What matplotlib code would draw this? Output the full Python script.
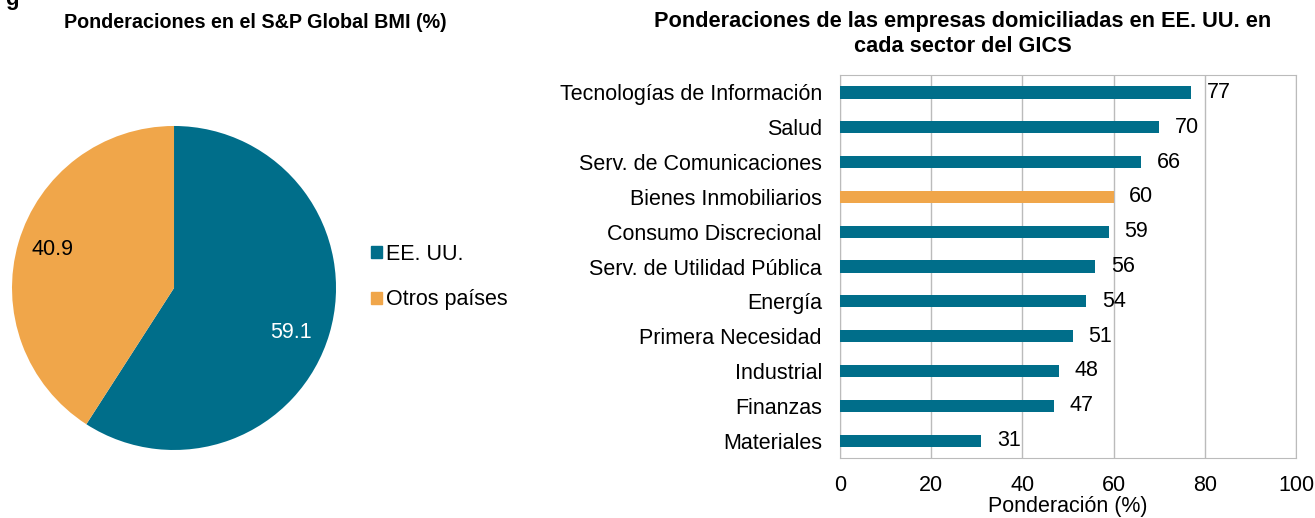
import matplotlib.pyplot as plt
from matplotlib.patches import Patch

plt.rcParams['font.family'] = ['Liberation Sans', 'DejaVu Sans']

teal = "#006E8A"
orange = "#F0A64A"

# pie data
pie_labels = ["EE. UU.", "Otros países"]
pie_values = [59.1, 40.9]

# bar data (top to bottom)
sectores = ["Tecnologías de Información", "Salud", "Serv. de Comunicaciones",
            "Bienes Inmobiliarios", "Consumo Discrecional", "Serv. de Utilidad Pública",
            "Energía", "Primera Necesidad", "Industrial", "Finanzas", "Materiales"]
pesos = [77, 70, 66, 60, 59, 56, 54, 51, 48, 47, 31]
destacado = "Bienes Inmobiliarios"

fs = 15.5

fig = plt.figure(figsize=(13.15, 5.18), dpi=100)

# --- pie ---
ax1 = fig.add_axes([0.00913, 0.1313, 0.2464, 0.6255])
wedges, _ = ax1.pie(pie_values, colors=[teal, orange], startangle=90,
                    counterclock=False, radius=1)
ax1.set_xlim(-1, 1)
ax1.set_ylim(-1, 1)
ax1.set_aspect("equal")
ax1.text(0.72, -0.275, "59.1", color="white", fontsize=fs, ha="center", va="center")
ax1.text(-0.75, 0.235, "40.9", color="black", fontsize=fs, ha="center", va="center")

fig.text(255 / 1315, 1 - 22 / 518, "Ponderaciones en el S&P Global BMI (%)",
         fontsize=14.2, fontweight="bold", ha="center", va="center")
fig.text(0.004, 1.0, "g", fontsize=16, fontweight="bold", ha="left", va="center")

handles = [Patch(color=teal), Patch(color=orange)]
fig.legend(handles, pie_labels, loc="center left",
           bbox_to_anchor=(352 / 1315, 1 - 277 / 518), frameon=False,
           fontsize=fs, handlelength=0.5, handleheight=0.5, handletextpad=0.2,
           labelspacing=1.15)

# --- bars ---
ax2 = fig.add_axes([0.6388, 0.1158, 0.3468, 0.7394])
y = list(range(len(sectores)))[::-1]
colores = [orange if s == destacado else teal for s in sectores]
ax2.barh(y, pesos, height=0.35, color=colores, zorder=3)
for yi, v in zip(y, pesos):
    ax2.text(v + 3.4, yi, str(v), fontsize=fs, va="center", ha="left", zorder=4)
ax2.set_yticks(y)
ax2.set_yticklabels(sectores, fontsize=fs)
ax2.set_xlim(0, 100)
ax2.set_ylim(-0.5, len(sectores) - 0.5)
ax2.set_xticks([0, 20, 40, 60, 80, 100])
ax2.tick_params(axis="both", length=0, labelsize=fs)
ax2.tick_params(axis="x", pad=12)
ax2.tick_params(axis="y", pad=13)
ax2.grid(axis="x", color="#BBBBBB", linewidth=1, zorder=0)
for sp in ax2.spines.values():
    sp.set_color("#BBBBBB")
ax2.set_xlabel("Ponderación (%)", fontsize=fs, labelpad=0.5)
fig.text(963 / 1315, 1 - 34 / 518,
         "Ponderaciones de las empresas domiciliadas en EE. UU. en\ncada sector del GICS",
         fontsize=15.7, fontweight="bold", ha="center", va="center", linespacing=1.2)

fig.savefig("out.png", dpi=100)
